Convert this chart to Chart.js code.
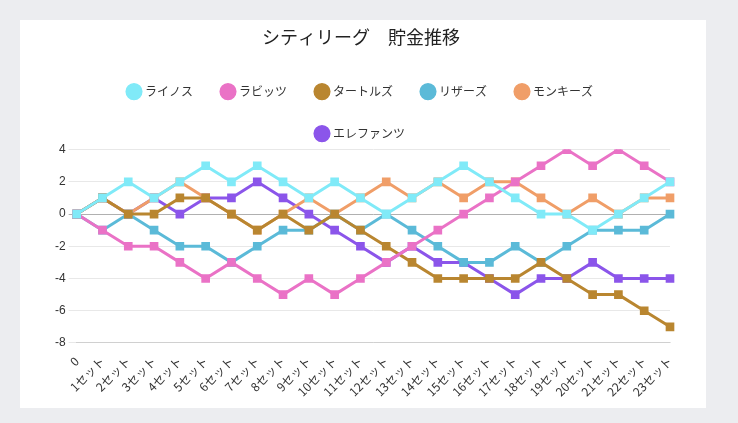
<!DOCTYPE html>
<html>
<head>
<meta charset="utf-8">
<script src="https://cdn.jsdelivr.net/npm/chart.js@4"></script>
<style>
  body { margin: 0; background: #ecedf0; font-family: "Noto Sans CJK JP", "Noto Sans", sans-serif; }
  #card { position: absolute; left: 20px; top: 20px; width: 686px; height: 388px; background: #fff; }
</style>
</head>
<body>
<div id="card"><canvas id="chart"></canvas></div>
<script>
// rounds (x axis)
const labels = ['0'];
for (let i = 1; i <= 23; i++) labels.push(i + 'セット');

const teamNames = ['エレファンツ', 'モンキーズ', 'リザーズ', 'タートルズ', 'ラビッツ', 'ライノス'];
const teamColors = ['#8b55ea', '#f09e68', '#5bbad8', '#b98630', '#ea72c6', '#80eaf8'];

const elephants = [0, 1, 0, 1, 0, 1, 1, 2, 1, 0, -1, -2, -3, -2, -3, -3, -4, -5, -4, -4, -3, -4, -4, -4];
const monkeys   = [0, 1, 0, 1, 2, 1, 0, -1, 0, 1, 0, 1, 2, 1, 2, 1, 2, 2, 1, 0, 1, 0, 1, 1];
const lizards   = [0, -1, 0, -1, -2, -2, -3, -2, -1, -1, 0, -1, 0, -1, -2, -3, -3, -2, -3, -2, -1, -1, -1, 0];
const turtles   = [0, 1, 0, 0, 1, 1, 0, -1, 0, -1, 0, -1, -2, -3, -4, -4, -4, -4, -3, -4, -5, -5, -6, -7];
const rabbits   = [0, -1, -2, -2, -3, -4, -3, -4, -5, -4, -5, -4, -3, -2, -1, 0, 1, 2, 3, 4, 3, 4, 3, 2];
const rhinos    = [0, 1, 2, 1, 2, 3, 2, 3, 2, 1, 2, 1, 0, 1, 2, 3, 2, 1, 0, 0, -1, 0, 1, 2];

const series = [elephants, monkeys, lizards, turtles, rabbits, rhinos];

new Chart(document.getElementById('chart'), {
    type: 'line',
    data: {
        labels: labels,
        datasets: series.map((d, i) => ({
            label: teamNames[i],
            data: d,
            order: series.length - i,   // later teams drawn on top
            borderColor: teamColors[i],
            backgroundColor: teamColors[i],
            borderWidth: 3,
            pointStyle: 'rect',
            pointRadius: 4,
            tension: 0
        }))
    },
    options: {
        responsive: true,
        maintainAspectRatio: false,
        animation: false,
        layout: { padding: { left: 32, right: 36, top: 4, bottom: 6 } },
        plugins: {
            title: {
                display: true,
                text: 'シティリーグ　貯金推移',
                color: '#222',
                font: { size: 18, weight: 'normal', family: '"Noto Sans CJK JP"' },
                padding: { top: 2, bottom: 8 }
            },
            legend: {
                labels: {
                    usePointStyle: true,
                    pointStyle: 'circle',
                    boxWidth: 10,
                    boxHeight: 10,
                    padding: 30,
                    color: '#333',
                    font: { size: 12, family: '"Noto Sans CJK JP"' }
                }
            }
        },
        scales: {
            x: {
                grid: { display: false },
                ticks: { color: '#333', maxRotation: 45, minRotation: 45, font: { size: 12, family: '"Noto Sans CJK JP"' } }
            },
            y: {
                min: -8,
                max: 4,
                border: { display: false },
                ticks: { stepSize: 2, color: '#333', font: { size: 12 } },
                grid: {
                    color: ctx => ctx.tick.value === 0 ? '#b0b0b0' : '#e8e8e8'
                }
            }
        }
    }
});
</script>
</body>
</html>
